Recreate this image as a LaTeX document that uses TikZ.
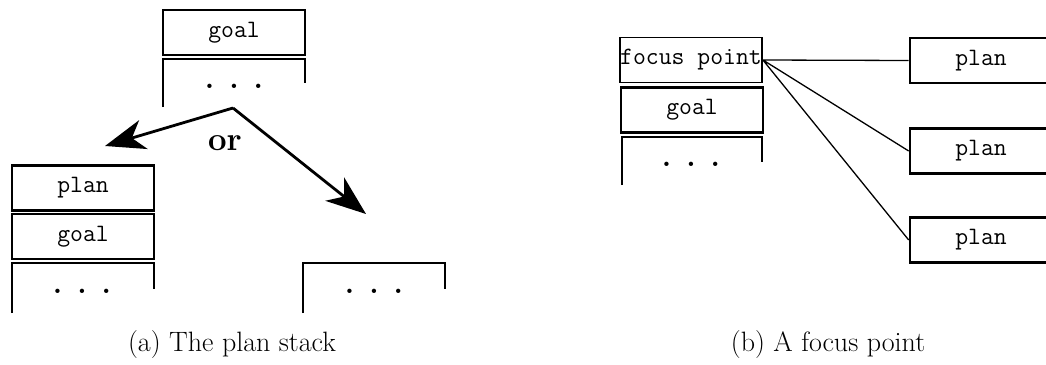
\documentclass[tikz,border=0pt]{standalone}
\usepackage{fix-cm}
\usetikzlibrary{arrows.meta}
\begin{document}
\begin{tikzpicture}[x=1pt,y=-1pt]
        \tikzstyle{frame}=[draw,line width=2.6pt,minimum width=142pt,minimum height=45pt,inner sep=0pt,font=\fontsize{25}{29}\selectfont\ttfamily];
        \tikzstyle{wall}=[line width=2.6pt];
        \tikzstyle{dots}=[inner sep=0pt,font=\fontsize{30}{34}\selectfont\bfseries];
        \tikzstyle{arr}=[line width=2.8pt,-{Stealth[length=40pt,width=30pt,inset=12pt]}];
        \tikzstyle{link}=[line width=1.3pt];
        \tikzstyle{caption}=[inner sep=0pt,font=\fontsize{28}{32}\selectfont];
        \useasboundingbox (0,0) rectangle (1046,364);
        %(a) the plan stack
        \node[frame] (g0) at (234,32.5) {goal};
        \draw[wall] (163,107) -- (163,59) -- (305,59) -- (305,83);
        \node[dots] (d0) at (234,86) {. . .};
        \coordinate (fork) at (233,108);
        \coordinate (l) at (105,146);
        \coordinate (r) at (366,214);
        \draw[arr] (fork) -- (l);
        \draw[arr] (fork) -- (r);
        \node[inner sep=0pt,font=\fontsize{33}{37}\selectfont\bfseries] (or) at (225,143) {or};
        \node[frame] (p1) at (83,188) {plan};
        \node[frame] (g1) at (83,236.5) {goal};
        \draw[wall] (12,313) -- (12,263) -- (154,263) -- (154,289);
        \node[dots] (d1) at (82,291) {. . .};
        \draw[wall] (303,313) -- (303,263) -- (445,263) -- (445,289);
        \node[dots] (d2) at (374,291) {. . .};
        \node[caption] (ca) at (232,345) {(a) The plan stack};
        %(b) a focus point
        \node[frame,line width=1.8pt] (fp) at (691,60) {focus point};
        \node[frame] (g2) at (692,110) {goal};
        \draw[wall] (622,185) -- (622,137) -- (762,137) -- (762,162);
        \node[dots] (d3) at (691,164) {. . .};
        \node[frame] (q1) at (981,60.5) {plan};
        \node[frame] (q2) at (981,151) {plan};
        \node[frame] (q3) at (981,240) {plan};
        \draw[link] (fp.east)--(q1.west)
        (fp.east)--(q2.west)
        (fp.east)--(q3.west);
        \node[caption] (cb) at (828,345) {(b) A focus point};
    \end{tikzpicture}
\end{document}
